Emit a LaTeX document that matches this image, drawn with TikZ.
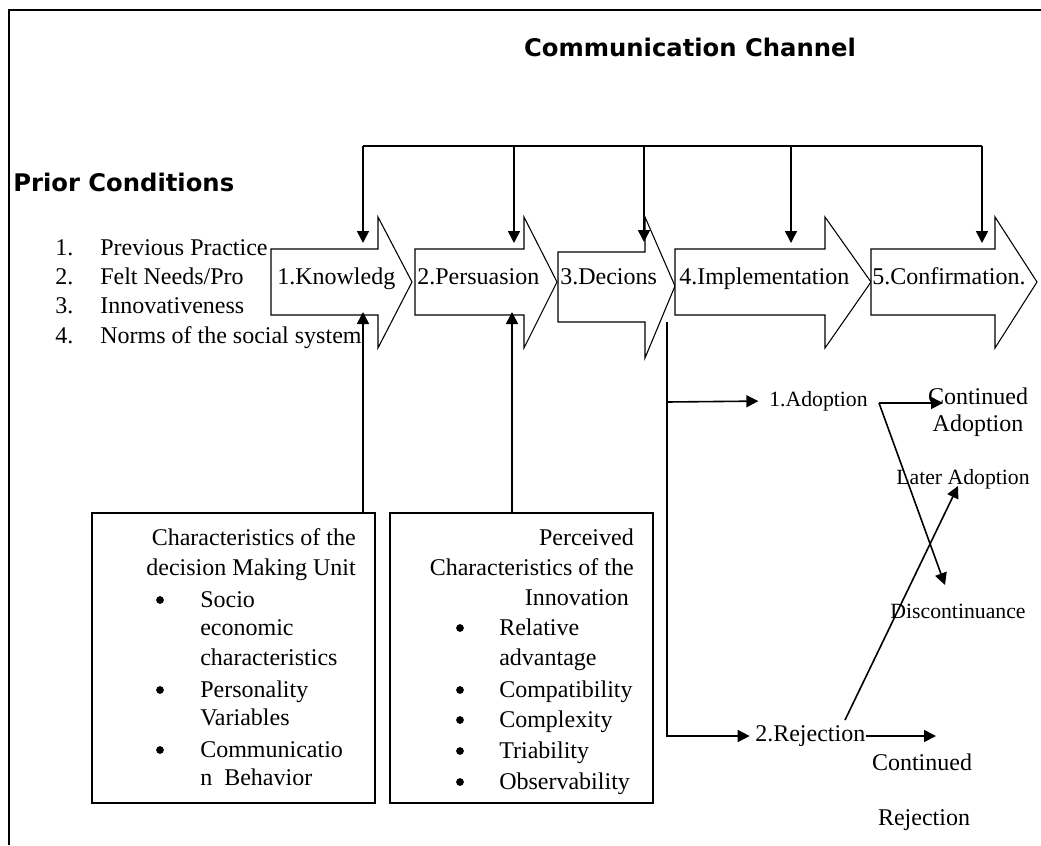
\documentclass[tikz,border=0pt]{standalone}
\usepackage{fontspec}
\setmainfont{Liberation Serif}
\newfontfamily\headfont{DejaVu Sans}
\usetikzlibrary{arrows.meta}

\tikzset{
	flow/.style={line width=1.2pt,-{Triangle[length=9pt,width=9pt]}},
	link/.style={line width=1.2pt},
	stage/.style={draw,line width=0.8pt,fill=white},
	lbl/.style={inner sep=0pt,font=\fontsize{18}{20}\selectfont},
	small lbl/.style={inner sep=0pt,font=\fontsize{16.3}{20}\selectfont},
	bulletdot/.style={circle,fill,inner sep=0pt,minimum size=5.8pt},
	heading/.style={inner sep=0pt,font=\headfont\bfseries\fontsize{18.2}{22}\selectfont},
	factorbox/.style={draw,line width=1.2pt,inner sep=0pt}
}

\begin{document}
\begin{tikzpicture}[x=0.75pt,y=-0.75pt]
		\useasboundingbox (0,0) rectangle (1041,845);
		\draw[line width=1.5pt] (9,845) -- (9,10) -- (1041,10);
		% headings
		\node[heading] (chan) at (690,47) {Communication Channel};
		\node[heading,anchor=west] (prior) at (13,182) {Prior Conditions};
		% prior conditions
		\node[lbl,anchor=base west] (p1n) at (55,255) {1.};
		\node[lbl,anchor=base west] (p2n) at (55,284) {2.};
		\node[lbl,anchor=base west] (p3n) at (55,313) {3.};
		\node[lbl,anchor=base west] (p4n) at (55,343) {4.};
		\node[lbl,anchor=base west] (p1) at (100,255) {Previous Practice};
		\node[lbl,anchor=base west] (p2) at (100,284) {Felt Needs/Pro};
		\node[lbl,anchor=base west] (p3) at (100,313) {Innovativeness};
		\node[lbl,anchor=base west] (p4) at (100,343) {Norms of the social system};
		% stages
		\draw[stage] (271,249) -- (378,249) -- (378,217) -- (412,282) -- (378,348) -- (378,315) -- (271,315) -- cycle;
		\draw[stage] (415,249) -- (524,249) -- (524,217) -- (557,282) -- (524,348) -- (524,315) -- (415,315) -- cycle;
		\draw[stage] (558,252) -- (645,252) -- (645,217) -- (675,286) -- (645,358) -- (645,322) -- (558,322) -- cycle;
		\draw[stage] (675,249) -- (825,249) -- (825,217) -- (871,282) -- (825,348) -- (825,315) -- (675,315) -- cycle;
		\draw[stage] (871,249) -- (995,249) -- (995,217) -- (1037,282) -- (995,348) -- (995,315) -- (871,315) -- cycle;
		\node[lbl,anchor=base west] (know) at (277,284) {1.Knowledg};
		\node[lbl,anchor=base west] (pers) at (417,284) {2.Persuasion};
		\node[lbl,anchor=base west] (deci) at (560,284) {3.Decions};
		\node[lbl,anchor=base west] (impl) at (679,284) {4.Implementation};
		\node[lbl,anchor=base west] (conf) at (872,284) {5.Confirmation.};
		% communication channel
		\coordinate (ch1) at (363,146);
		\coordinate (ch2) at (514,146);
		\coordinate (ch3) at (644,146);
		\coordinate (ch4) at (791,146);
		\coordinate (ch5) at (982,146);
		\draw[link] (ch1) -- (ch5);
		\draw[flow] (ch1) -- (363,243);
		\draw[flow] (ch2) -- (514,243);
		\draw[flow] (ch3) -- (644,242);
		\draw[flow] (ch4) -- (791,243);
		\draw[flow] (ch5) -- (982,243);
		% characteristics boxes
		\node[factorbox,minimum width=212.25pt,minimum height=217.5pt] (dmu) at (233.5,658) {};
		\node[factorbox,minimum width=197.25pt,minimum height=217.5pt] (innov) at (521.5,658) {};
		\coordinate (up1) at (363,312);
		\coordinate (up2) at (512,312);
		\draw[flow] (dmu.north -| up1) -- (up1);
		\draw[flow] (innov.north -| up2) -- (up2);
		\node[lbl,anchor=base east] (d1) at (356,545) {Characteristics of the};
		\node[lbl,anchor=base east] (d2) at (356,575) {decision Making Unit};
		\node[bulletdot] (db1) at (160,600) {};
		\node[lbl,anchor=base west] (d3) at (200,607) {Socio};
		\node[lbl,anchor=base west] (d4) at (200,635) {economic};
		\node[lbl,anchor=base west] (d5) at (200,665) {characteristics};
		\node[bulletdot] (db2) at (160,690) {};
		\node[lbl,anchor=base west] (d6) at (200,697) {Personality};
		\node[lbl,anchor=base west] (d7) at (200,725) {Variables};
		\node[bulletdot] (db3) at (160,750) {};
		\node[lbl,anchor=base west] (d8) at (200,757) {Communicatio};
		\node[lbl,anchor=base west] (d9) at (200,785) {n\ \ Behavior};
		\node[lbl,anchor=base east] (i1) at (634,545) {Perceived};
		\node[lbl,anchor=base east] (i2) at (634,575) {Characteristics of the};
		\node[lbl,anchor=base east] (i3) at (629,605) {Innovation};
		\node[bulletdot] (ib1) at (460,628) {};
		\node[lbl,anchor=base west] (i4) at (499,635) {Relative};
		\node[lbl,anchor=base west] (i5) at (499,665) {advantage};
		\node[bulletdot] (ib2) at (460,690) {};
		\node[lbl,anchor=base west] (i6) at (499,697) {Compatibility};
		\node[bulletdot] (ib3) at (460,720) {};
		\node[lbl,anchor=base west] (i7) at (499,727) {Complexity};
		\node[bulletdot] (ib4) at (460,751) {};
		\node[lbl,anchor=base west] (i8) at (499,758) {Triability};
		\node[bulletdot] (ib5) at (460,782) {};
		\node[lbl,anchor=base west] (i9) at (499,789) {Observability};
		% decision outcomes
		\node[small lbl,anchor=west] (adopt) at (769,401) {1.Adoption};
		\node[lbl,anchor=west] (rej) at (755,736) {2.Rejection};
		\node[lbl,align=center] (contad) at (978,412) {Continued\\Adoption};
		\node[small lbl] (later) at (963,479) {Later Adoption};
		\node[small lbl] (disc) at (958,611) {Discontinuance};
		\node[lbl] (contrej) at (922,762) {Continued};
		\node[lbl] (rejlab) at (924,820) {Rejection};
		\coordinate (dec) at (667,322);
		\coordinate (fork) at (879,403);
		\coordinate (rejup) at (845,720);
		\draw[link] (dec) -- (667,402);
		\draw[flow,shorten >=8pt] (667,402) -- (adopt.west);
		\draw[flow,shorten >=4pt] (667,402) |- (rej.west);
		\draw[flow] (fork) -- (943,403);
		\draw[flow] (fork) -- (945,585);
		\draw[flow] (rej.east) -- (936,736);
		\draw[flow] (rejup) -- (958,486);
\end{tikzpicture}
\end{document}
